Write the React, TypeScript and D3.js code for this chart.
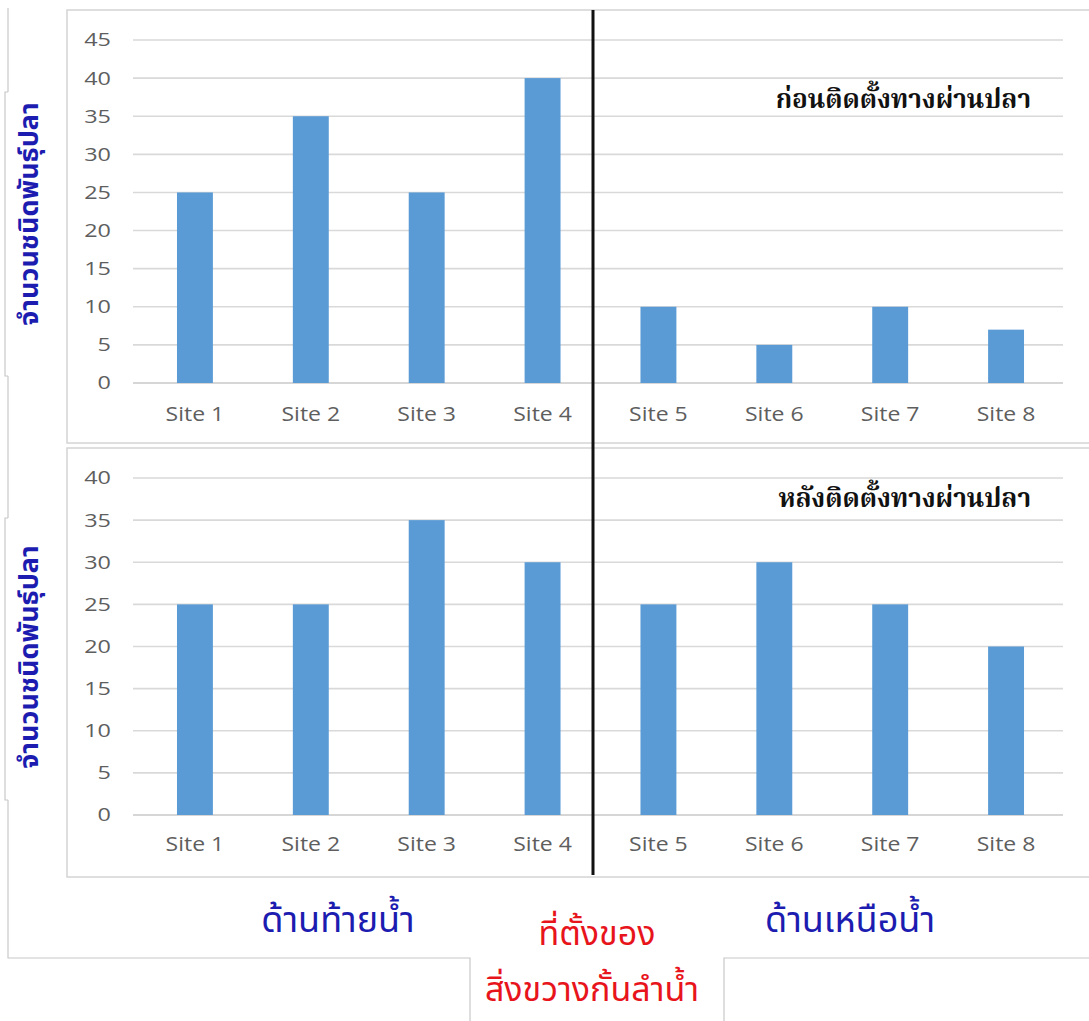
import React from "react";
import * as d3 from "d3";

// Fish species counts at each site, before and after the fishway was built
const sites = ["Site 1", "Site 2", "Site 3", "Site 4", "Site 5", "Site 6", "Site 7", "Site 8"];
const beforeCounts = [25, 35, 25, 40, 10, 5, 10, 7];
const afterCounts = [25, 25, 35, 30, 25, 30, 25, 20];
const beforeTicks = [0, 5, 10, 15, 20, 25, 30, 35, 40, 45];
const afterTicks = [0, 5, 10, 15, 20, 25, 30, 35, 40];

const yAxisTitle = "จำนวนชนิดพันธุ์ปลา";
const beforeTitle = "ก่อนติดตั้งทางผ่านปลา";
const afterTitle = "หลังติดตั้งทางผ่านปลา";
const downstreamLabel = "ด้านท้ายน้ำ";
const upstreamLabel = "ด้านเหนือน้ำ";
const barrierLabel = ["ที่ตั้งของ", "สิ่งขวางกั้นลำน้ำ"];

const W = 1089;
const H = 1021;
const BAR = "#5b9bd5";
const GRID = "#d9d9d9";
const TICK = "#5e5e5e";
const NAVY = "#1c1cb0";
const RED = "#e8141b";
const latin = "'Open Sans', Lato, 'DejaVu Sans', sans-serif";
const thaiSans = "Tahoma, 'Noto Sans Thai', 'Noto Sans Thai UI', 'DejaVu Sans', sans-serif";
const thaiSerif = "'Angsana New', 'Noto Serif Thai', 'Noto Sans Thai', Tahoma, serif";

const x = d3.scaleBand<string>().domain(sites).range([137, 1064]).paddingInner(0.69).paddingOuter(0.345);

type PanelProps = {
  values: number[];
  ticks: number[];
  y: d3.ScaleLinear<number, number>;
  title: string;
  titleY: number;
  labelY: number;
  frame: [number, number];
  axisTitleBox: [number, number];
  axisTitleMid: number;
};

function Panel({ values, ticks, y, title, titleY, labelY, frame, axisTitleBox, axisTitleMid }: PanelProps) {
  const [boxTop, boxBottom] = axisTitleBox;
  return (
    <g>
      <rect x={67} y={frame[0]} width={W - 67 + 5} height={frame[1] - frame[0]} fill="#fff" stroke="#d4d4d4" strokeWidth={1.5} />
      {ticks.map((t) => (
        <g key={t}>
          <line x1={133} x2={1063} y1={y(t)} y2={y(t)} stroke={t === 0 ? "#c8c8c8" : GRID} strokeWidth={1.6} />
          <text
            transform={`translate(111,${y(t)}) scale(1.3,1)`}
            dy="0.36em"
            textAnchor="end"
            fontFamily={latin}
            fontSize={18}
            fill={TICK}
          >
            {t}
          </text>
        </g>
      ))}
      {values.map((v, i) => (
        <rect key={sites[i]} x={x(sites[i])} y={y(v)} width={x.bandwidth()} height={y(0) - y(v)} fill={BAR} />
      ))}
      {sites.map((s) => (
        <text
          key={s}
          transform={`translate(${(x(s) as number) + x.bandwidth() / 2},${labelY}) scale(1.15,1)`}
          textAnchor="middle"
          fontFamily={latin}
          fontSize={20}
          fill={TICK}
        >
          {s}
        </text>
      ))}
      <text x={1031} y={titleY} textAnchor="end" fontFamily={thaiSerif} fontWeight="bold" fontSize={26} fill="#111">
        {title}
      </text>
      {/* rotated axis title on its own white card */}
      <rect x={5} y={boxTop} width={44} height={boxBottom - boxTop} fill="#fff" />
      <path d={`M8,${boxTop} H5 V${boxBottom} H8`} fill="none" stroke="#c8c8c8" strokeWidth={1.2} />
      <text
        transform={`translate(29,${axisTitleMid}) rotate(-90)`}
        textAnchor="middle"
        dy="0.35em"
        fontFamily={thaiSans}
        fontWeight="bold"
        fontSize={27}
        fill={NAVY}
      >
        {yAxisTitle}
      </text>
    </g>
  );
}

export default function App() {
  const yBefore = d3.scaleLinear().domain([0, 45]).range([383, 40]);
  const yAfter = d3.scaleLinear().domain([0, 40]).range([815, 478]);
  return (
    <svg width={W} height={H} viewBox={`0 0 ${W} ${H}`} style={{ position: "absolute", left: 0, top: 0, background: "#fff" }}>
      <rect width={W} height={H} fill="#fff" />
      {/* outer frame with the middle caption box hanging below it */}
      <path d={`M8,8 V958 H470 V${H + 2} M724,${H + 2} V958 H${W + 2}`} fill="none" stroke="#c8c8c8" strokeWidth={1.2} />
      <Panel
        values={beforeCounts}
        ticks={beforeTicks}
        y={yBefore}
        title={beforeTitle}
        titleY={108}
        labelY={421}
        frame={[10, 443]}
        axisTitleBox={[92, 376]}
        axisTitleMid={214}
      />
      <Panel
        values={afterCounts}
        ticks={afterTicks}
        y={yAfter}
        title={afterTitle}
        titleY={507}
        labelY={851}
        frame={[448, 877]}
        axisTitleBox={[518, 800]}
        axisTitleMid={657}
      />
      {/* barrier location */}
      <line x1={593} x2={593} y1={10} y2={875} stroke="#111" strokeWidth={3} />
      <text x={338} y={932} textAnchor="middle" fontFamily={thaiSans} fontSize={36} fill={NAVY}>
        {downstreamLabel}
      </text>
      <text x={850} y={932} textAnchor="middle" fontFamily={thaiSans} fontSize={36} fill={NAVY}>
        {upstreamLabel}
      </text>
      <text x={597} y={945} textAnchor="middle" fontFamily={thaiSans} fontSize={34} fill={RED}>
        {barrierLabel[0]}
      </text>
      <text x={592} y={1001} textAnchor="middle" fontFamily={thaiSans} fontSize={34} fill={RED}>
        {barrierLabel[1]}
      </text>
    </svg>
  );
}
